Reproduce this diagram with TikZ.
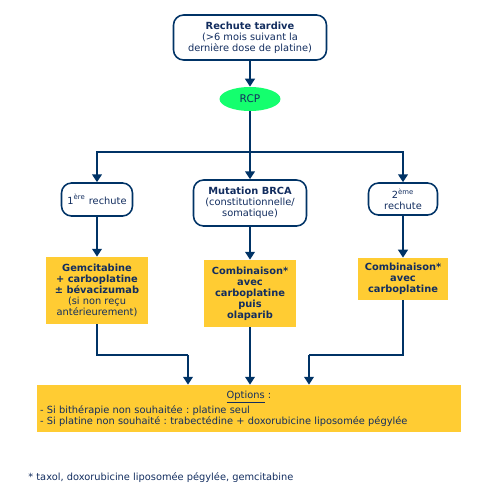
\documentclass[tikz,border=0pt]{standalone}
\usepackage{fontspec}
\setmainfont{DejaVu Sans}
\frenchspacing
\usetikzlibrary{arrows.meta,shapes.geometric}
\definecolor{navy}{RGB}{0,51,102}
\definecolor{txtblue}{RGB}{18,45,95}
\definecolor{jaune}{RGB}{255,204,51}
\definecolor{vert}{RGB}{20,255,110}
\tikzset{
  txt/.style={font=\fontsize{5.6}{6.2}\selectfont, text=txtblue, align=center},
  rbox/.style={txt, draw=navy, line width=0.9pt, rounded corners=0.2cm, fill=white, inner sep=1pt},
  ybox/.style={txt, fill=jaune, inner sep=2pt},
  arr/.style={draw=navy, line width=1.1pt, -{Triangle[width=5.5pt,length=4.5pt]}},
  lin/.style={draw=navy, line width=1.1pt}
}
\begin{document}
\begin{tikzpicture}[x=0.02cm, y=-0.02cm]
\useasboundingbox (0,0) rectangle (500,500);
% Noeuds
\node[rbox, minimum width=3.06cm, minimum height=0.9cm] (top) at (250,37.5)
  {\textbf{Rechute tardive}\\(>6 mois suivant la\\dernière dose de platine)};
\node[txt, ellipse, fill=vert, minimum width=1.22cm, minimum height=0.48cm, inner sep=0pt, font=\fontsize{6}{6.5}\selectfont] (rcp) at (250,99) {RCP};
\node[rbox, minimum width=1.42cm, minimum height=0.66cm] (r1) at (97,199.5) {1\textsuperscript{ère} rechute};
\node[rbox, minimum width=2.26cm, minimum height=0.92cm] (brca) at (250,203)
  {\textbf{Mutation BRCA}\\(constitutionnelle/\\somatique)};
\node[rbox, minimum width=1.38cm, minimum height=0.64cm] (r2) at (403,199) {2\textsuperscript{ème}\\rechute};
\node[ybox, minimum width=2.06cm, minimum height=1.34cm] (y1) at (97,290.5)
  {\textbf{Gemcitabine}\\\textbf{+ carboplatine}\\\textbf{± bévacizumab}\\(si non reçu\\antérieurement)};
\node[ybox, minimum width=1.84cm, minimum height=1.34cm] (ybrca) at (250,293.5)
  {\textbf{Combinaison*}\\\textbf{avec}\\\textbf{carboplatine}\\\textbf{puis}\\\textbf{olaparib}};
\node[ybox, minimum width=1.8cm, minimum height=0.84cm] (y2) at (403,279)
  {\textbf{Combinaison*}\\\textbf{avec}\\\textbf{carboplatine}};
\node[ybox, align=left, text width=8.36cm, minimum height=0.94cm, inner sep=0.06cm] (opt) at (249,408.5)
  {\hfil\underline{Options} :\hfil\\
   - Si bithérapie non souhaitée : platine seul\\
   - Si platine non souhaité : trabectédine + doxorubicine liposomée pégylée};
\node[txt, anchor=west, inner sep=0pt] (note) at (28,478) {* taxol, doxorubicine liposomée pégylée, gemcitabine};
% Liens
\coordinate (fork) at (250,152);
\coordinate (j1) at (188,355);
\coordinate (j2) at (309,355);
\draw[arr] (top) -- (rcp);
\draw[arr] (rcp) -- (brca);
\draw[arr] (fork) -| (r1);
\draw[arr] (fork) -| (r2);
\draw[arr] (r1) -- (y1);
\draw[arr] (brca) -- (ybrca);
\draw[arr] (r2) -- (y2);
\draw[lin] (y1) |- (j1);
\draw[arr] (j1) -- (j1 |- opt.north);
\draw[arr] (ybrca) -- (ybrca |- opt.north);
\draw[lin] (y2) |- (j2);
\draw[arr] (j2) -- (j2 |- opt.north);
\end{tikzpicture}
\end{document}
